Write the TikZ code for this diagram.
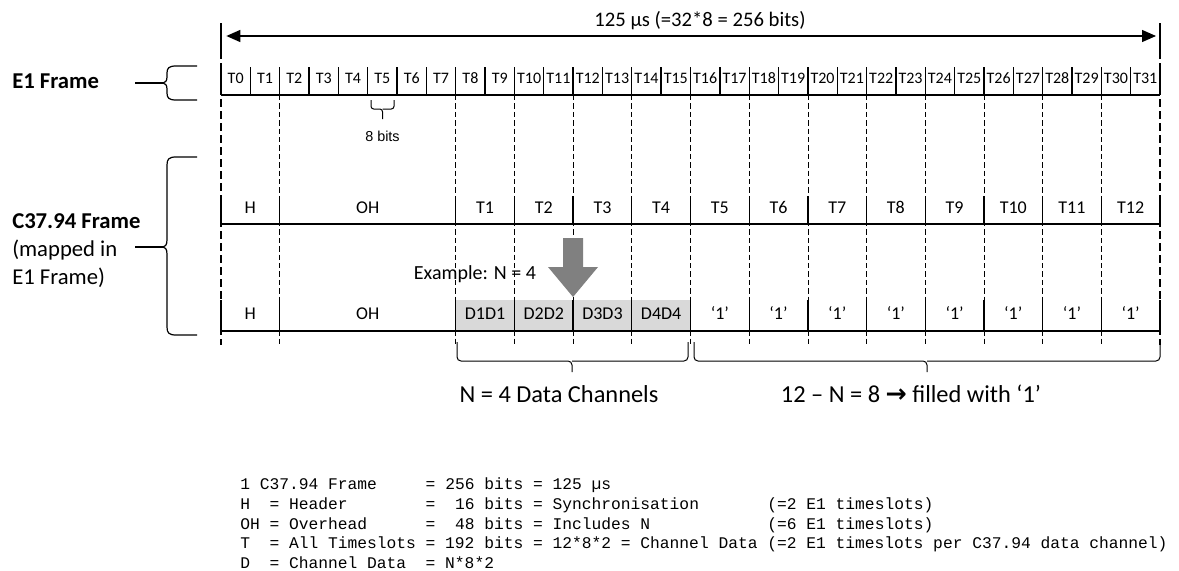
\documentclass[tikz,border=0pt]{standalone}
\usepackage{fontspec}
\setmainfont{Carlito}
\setmonofont{Liberation Mono}
\newfontfamily\arialfont{Liberation Sans}
\newfontfamily\arrowfont{DejaVu Sans}
\usetikzlibrary{arrows.meta}
\definecolor{datagray}{HTML}{D9D9D9}
\definecolor{blockgray}{HTML}{808080}
\newcommand{\slotw}{29.344}
\tikzset{
  frameline/.style={line width=1pt},
  endbar/.style={line width=1.6pt},
  slotcut/.style={line width=0.5pt, dash pattern=on 4pt off 2.3pt},
  edgecut/.style={line width=1.1pt, dash pattern=on 6pt off 3pt},
  bracepen/.style={line width=0.9pt},
  spanarrow/.style={line width=1pt, {Triangle[length=10.5pt,width=9pt]}-{Triangle[length=10.5pt,width=9pt]}, shorten <=4pt, shorten >=3pt},
  slotlabel/.style={font=\fontsize{12}{14}\selectfont, inner sep=0pt, anchor=base},
  celllabel/.style={font=\fontsize{13.5}{16}\selectfont, inner sep=0pt, anchor=base},
  sidelabel/.style={font=\fontsize{17}{21}\selectfont, inner sep=0pt, anchor=base west},
  legendline/.style={font=\ttfamily\fontsize{12.2}{14.8}\selectfont, inner sep=0pt, anchor=base west},
}

\begin{document}
\begin{tikzpicture}[x=0.75pt,y=-0.75pt]
\useasboundingbox (0,0) rectangle (1179,571);
\fill[white] (0,0) rectangle (1179,571);

% overall span
\coordinate (lbar) at (221,36);
\coordinate (rbar) at (1160,36);
\draw[endbar] (221,23) -- (221,51);
\draw[endbar] (1160,23) -- (1160,51);
\draw[spanarrow] (lbar) -- (rbar);
\node[font=\fontsize{15.5}{18}\selectfont, inner sep=0pt, anchor=base] (spanlabel) at (700,26.5) {125 µs (=32*8 = 256 bits)};

% grey data cells
\fill[datagray] ({221+8*\slotw},300) rectangle ({221+16*\slotw},331);

% dashed slot boundaries
\foreach \k in {2,8,10,...,30}
  \draw[slotcut] ({221+\k*\slotw},95) -- ({221+\k*\slotw},345);
\foreach \k in {0,32}
  \draw[edgecut] ({221+\k*\slotw},51) -- ({221+\k*\slotw},345);

% E1 frame
\foreach \k in {0,...,32}
  \draw[frameline] ({221+\k*\slotw},67) -- ({221+\k*\slotw},95);
\draw[frameline] (221,95) -- (1160,95);
\foreach \k in {0,...,31}
  \node[slotlabel] (e1t\k) at ({221+(\k+0.5)*\slotw},83.3) {T\k};

% 8 bits
\draw[bracepen, line width=0.75pt, rounded corners=2pt] (371,100) |- (382.5,109) -- (382.5,119);
\draw[bracepen, line width=0.75pt, rounded corners=2pt] (394,100) |- (382.5,109);
\node[font=\arialfont\fontsize{10.8}{13}\selectfont, inner sep=0pt, anchor=base] (bitslabel) at (382.5,141) {8 bits};

% C37.94 frame, timeslots
\foreach \k in {0,2,8,10,...,32} {
  \draw[frameline] ({221+\k*\slotw},196) -- ({221+\k*\slotw},224);
  \draw[frameline] ({221+\k*\slotw},300) -- ({221+\k*\slotw},331);
}
\draw[frameline] (221,224) -- (1160,224);
\draw[frameline] (221,331) -- (1160,331);
\node[celllabel] (uph) at ({221+1*\slotw},213) {H};
\node[celllabel] (upoh) at ({221+5*\slotw},213) {OH};
\foreach \i in {1,...,12}
  \node[celllabel] (upt\i) at ({221+(7+2*\i)*\slotw},213) {T\i};

% C37.94 frame, data
\node[celllabel] (loh) at ({221+1*\slotw},319) {H};
\node[celllabel] (looh) at ({221+5*\slotw},319) {OH};
\foreach \i in {1,...,4}
  \node[celllabel] (lod\i) at ({221+(7+2*\i)*\slotw},319) {D\i D\i};
\foreach \i in {5,...,12}
  \node[celllabel] (lofill\i) at ({221+(7+2*\i)*\slotw},319) {‘1’};

% mapping arrow
\fill[blockgray] (563,238) -- (583,238) -- (583,267) -- (598,267) -- (573,297) -- (548,267) -- (563,267) -- cycle;
\node[font=\fontsize{15}{18}\selectfont, inner sep=0pt, anchor=base] (examplelabel) at (475,279) {Example: N = 4};

% channel braces
\draw[bracepen, line width=0.75pt, rounded corners=3pt] (457,342) |- (572,361) -- (572,372);
\draw[bracepen, line width=0.75pt, rounded corners=3pt] (688,342) |- (572,361);
\draw[bracepen, line width=0.75pt, rounded corners=3pt] (694,342) |- (927,361) -- (927,372);
\draw[bracepen, line width=0.75pt, rounded corners=3pt] (1160,342) |- (927,361);
\node[font=\fontsize{18.3}{22}\selectfont, inner sep=0pt, anchor=base] (datalabel) at (559,402) {N = 4 Data Channels};
\node[font=\fontsize{18.3}{22}\selectfont, inner sep=0pt, anchor=base] (filllabel) at (911,402) {12 – N = 8 {\arrowfont\bfseries\fontsize{19}{22}\selectfont →} filled with ‘1’};

% side labels
\node[sidelabel, font=\bfseries\fontsize{17}{21}\selectfont] (e1label) at (12,88) {E1 Frame};
\node[sidelabel, font=\bfseries\fontsize{17}{21}\selectfont] (c37label) at (12,228) {C37.94 Frame};
\node[sidelabel] (mappedlabel) at (12,256) {(mapped in};
\node[sidelabel] (e1maplabel) at (12,284) {E1 Frame)};
\coordinate (e1stub) at (135,83);
\coordinate (e1tip) at (163,83);
\coordinate (c37stub) at (135,247);
\coordinate (c37tip) at (163,247);
\draw[bracepen] (e1stub) -- (e1tip);
\draw[bracepen] (c37stub) -- (c37tip);
\draw[bracepen] (197,66) -- (176,66) .. controls (169,66) and (167,68) .. (167,73) -- (167,77)
  .. controls (167,81) and (165,83) .. (e1tip) .. controls (165,83) and (167,85) .. (167,89)
  -- (167,93) .. controls (167,98) and (169,100) .. (176,100) -- (197,100);
\draw[bracepen] (197,157) -- (176,157) .. controls (169,157) and (167,159) .. (167,165) -- (167,240)
  .. controls (167,245) and (165,247) .. (c37tip) .. controls (165,247) and (167,249) .. (167,254)
  -- (167,327) .. controls (167,333) and (169,335) .. (176,335) -- (197,335);

% legend
\node[legendline] (legendA) at (240,489.3) {1 C37.94 Frame~~~~~= 256 bits = 125 µs};
\node[legendline] (legendB) at (240,509.2) {H~~= Header~~~~~~~~=~~16 bits = Synchronisation~~~~~~~(=2 E1 timeslots)};
\node[legendline] (legendC) at (240,529.0) {OH = Overhead~~~~~~=~~48 bits = Includes N~~~~~~~~~~~~(=6 E1 timeslots)};
\node[legendline] (legendD) at (240,548.9) {T~~= All Timeslots = 192 bits = 12*8*2 = Channel Data (=2 E1 timeslots per C37.94 data channel)};
\node[legendline] (legendE) at (240,568.7) {D~~= Channel Data~~= N*8*2};
\end{tikzpicture}
\end{document}
